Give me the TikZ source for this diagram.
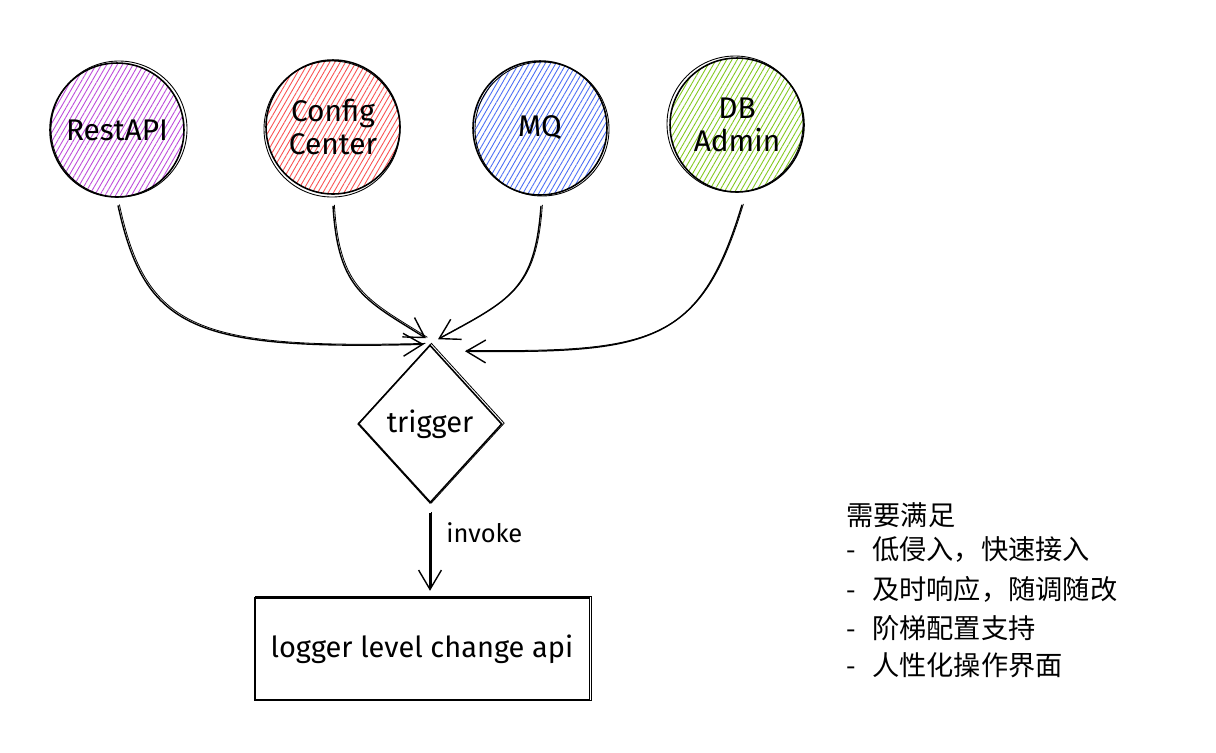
\documentclass[tikz,border=0pt]{standalone}
\usepackage{fontspec}
\setmainfont{Fira Sans}
\newfontfamily\cjk{Noto Sans CJK SC}
\usetikzlibrary{shapes.geometric,arrows.meta,patterns.meta,calc}
\definecolor{cviolet}{HTML}{BE4BDB}
\definecolor{cred}{HTML}{FA5252}
\definecolor{cblue}{HTML}{4C6EF5}
\definecolor{cgreen}{HTML}{82C91E}
\newcommand{\dashgap}{-\hspace{0.6em}}
\begin{document}
\begin{tikzpicture}[x=0.02cm,y=-0.02cm,
  src/.style={circle, draw=black, line width=0.9pt, minimum size=2.68cm, inner sep=0pt, align=center, font=\fontsize{17}{19}\selectfont},
  hatch/.style={pattern={Lines[angle=60,distance=2.6pt,line width=0.5pt]}, pattern color=#1},
  conn/.style={line width=0.8pt, -{Straight Barb[length=11pt,width=13pt,line width=0.8pt]}},
  ghost/.style={line width=0.45pt, transform canvas={xshift=0.8pt,yshift=0.5pt}},
  ghostc/.style={line width=0.5pt},
  lbl/.style={font=\fontsize{16.5}{19}\selectfont},
  req/.style={anchor=west, inner sep=0pt, font=\cjk\fontsize{15.5}{18}\selectfont}]
\useasboundingbox[fill=white] (0,0) rectangle (1216,752);

% source circles
\node[src, hatch=cviolet] (rest) at (117,130) {RestAPI};
\node[src, hatch=cred]    (cfg)  at (333,127) {Config\\Center};
\node[src, hatch=cblue]   (mq)   at (540,128) {MQ};
\node[src, hatch=cgreen]  (db)   at (737,125) {DB\\Admin};
\draw[ghostc] ($(rest.center)+(2,-1)$) circle [radius=68];
\draw[ghostc] ($(cfg.center)+(-1,2)$) circle [radius=68];
\draw[ghostc] ($(mq.center)+(2,1)$) circle [radius=67];
\draw[ghostc] ($(db.center)+(-2,-1)$) circle [radius=68];

% trigger diamond
\node[diamond, draw, line width=0.9pt, minimum width=2.88cm, minimum height=3.16cm, inner sep=0pt, lbl] (trig) at (430,424) {trigger};
\draw[ghost] (trig.north) -- (trig.east) -- (trig.south) -- (trig.west) -- cycle;

% api box
\node[draw, line width=0.9pt, minimum width=6.7cm, minimum height=2.04cm, lbl] (api) at (422,649) {logger level change api};
\draw[ghost] (api.north west) rectangle (api.south east);

% connectors
\draw[conn] ($(rest.south)+(1,8)$) .. controls (145,330) and (195,350) .. ($(trig.north)+(-6,0)$);
\draw[ghost] ($(rest.south)+(1,8)$) .. controls (145,330) and (195,350) .. ($(trig.north)+(-6,0)$);
\draw[conn] ($(cfg.south)+(0,11)$) .. controls (338,290) and (365,300) .. ($(trig.north)+(-4,-6)$);
\draw[ghost] ($(cfg.south)+(0,11)$) .. controls (338,290) and (365,300) .. ($(trig.north)+(-4,-6)$);
\draw[conn] ($(mq.south)+(1,10)$) .. controls (535,290) and (510,300) .. ($(trig.north)+(8,-5)$);
\draw[ghost] ($(mq.south)+(1,10)$) .. controls (535,290) and (510,300) .. ($(trig.north)+(8,-5)$);
\draw[conn] ($(db.south)+(5,12)$) .. controls (700,345) and (650,353) .. ($(trig.north)+(35,7)$);
\draw[ghost] ($(db.south)+(5,12)$) .. controls (700,345) and (650,353) .. ($(trig.north)+(35,7)$);

\draw[conn] ($(trig.south)+(0,9)$) -- ($(trig.south)+(0,87)$);
\draw[ghost] ($(trig.south)+(0,9)$) -- ($(trig.south)+(0,85)$);
\node[anchor=west, inner sep=0pt, font=\fontsize{14.5}{17}\selectfont] (inv) at (446,533) {invoke};

% requirements
\node[req] (req0) at (846,515) {需要满足};
\node[req] (req1) at (846,550) {\dashgap 低侵入，快速接入};
\node[req] (req2) at (846,589) {\dashgap 及时响应，随调随改};
\node[req] (req3) at (846,628) {\dashgap 阶梯配置支持};
\node[req] (req4) at (846,665) {\dashgap 人性化操作界面};
\end{tikzpicture}
\end{document}
